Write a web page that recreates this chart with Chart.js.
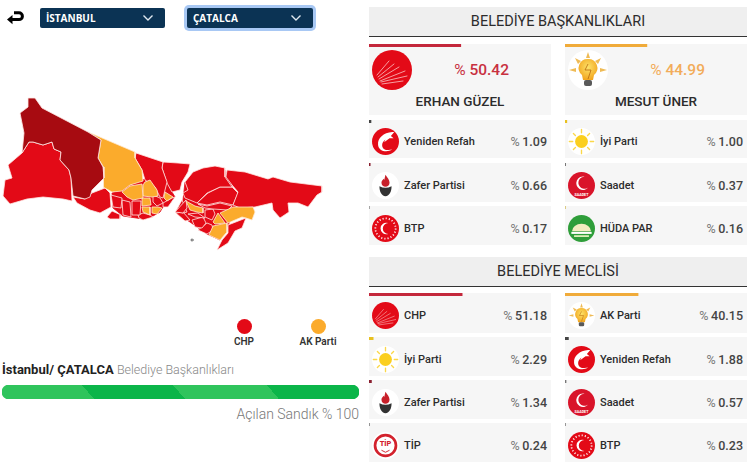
<!DOCTYPE html>
<html lang="tr">
<head>
<meta charset="utf-8">
<title>İstanbul / Çatalca</title>
<script src="https://cdn.jsdelivr.net/npm/chart.js@4"></script>
<style>
  html, body { margin: 0; padding: 0; background: #fff; }
  body { width: 750px; height: 467px; position: relative; overflow: hidden; font-family: Roboto, Lato, sans-serif; color: #2c2c2c; }
  .abs { position: absolute; }
  .select { position: absolute; top: 8px; height: 20px; width: 125px; background: #0b3354; border-radius: 2px; color: #fff; font: 700 10px/20px "Open Sans", sans-serif; padding-left: 6px; box-sizing: border-box; }
  .select.focus { box-shadow: 0 0 0 3px #a8c8f4; width: 126px; }
  .select svg { position: absolute; right: 11px; top: 6px; }
  .head { position: absolute; left: 369px; width: 378px; height: 30px; background: #efefef; border-bottom: 1px solid #333; box-sizing: border-box; text-align: center; font-size: 14.5px; line-height: 29px; font-weight: 400; }
  .card { position: absolute; width: 182px; background: #f6f6f6; }
  .card canvas { position: absolute; left: 0; top: 0; }
  .card .logo { position: absolute; left: 3px; top: 50%; margin-top: -11px; width: 27px; height: 27px; }
  .card .name { position: absolute; left: 35px; top: calc(50% + 2px); transform: translateY(-50%); font-size: 11px; font-weight: 500; white-space: nowrap; }
  .card .val { position: absolute; right: 4px; top: calc(50% + 2px); transform: translateY(-50%); font-size: 12.5px; font-weight: 500; word-spacing: -0.5px; white-space: nowrap; color: #444; }
  .card .val i { font-style: normal; font-weight: 400; color: #777; }
  .big .logo { left: 3px; top: 6px; margin: 0; width: 40px; height: 40px; }
  .big .val { right: 42px; top: 26px; font-size: 15.5px; word-spacing: 0; }
  .big .cand { position: absolute; left: 0; right: 0; top: 49px; text-align: center; font-size: 13.5px; font-weight: 500; }
  .legend { position: absolute; top: 319px; width: 60px; text-align: center; font-size: 10px; font-weight: 600; color: #333; }
  .legend b { display: block; width: 15px; height: 15px; border-radius: 50%; margin: 0 auto 2px; }
</style>
</head>
<body>

<svg width="0" height="0" style="position:absolute">
  <defs>
    <radialGradient id="bulbGlow" cx="50%" cy="40%" r="60%">
      <stop offset="0" stop-color="#fde36a"/>
      <stop offset="1" stop-color="#f2a51e"/>
    </radialGradient>
    <symbol id="logo-chp" viewBox="0 0 40 40">
      <circle cx="20" cy="20" r="20" fill="#e30a17"/>
      <g stroke="#fbc4c4" stroke-width="0.8" stroke-linecap="round">
        <path d="M5 25L17 11M6 27L22 14M7 29L27 17M8 31L33 21M9 32L35 26M10 34L31 31"/>
      </g>
    </symbol>
    <symbol id="logo-ak" viewBox="0 0 40 40">
      <circle cx="20" cy="20" r="20" fill="#fff"/>
      <g fill="#efbb56">
        <path d="M20 2l2 6h-4zM7 8l6 3-3 3zM33 8l-6 3 3 3zM1 20l7-2v4zM39 20l-7-2v4z"/>
      </g>
      <path d="M20 9a9 9 0 0 1 6 16l-1 5H15l-1-5a9 9 0 0 1 6-16z" fill="url(#bulbGlow)"/>
      <path d="M20 14l-3 6h6l-3 9" stroke="#b86a10" stroke-width="0.8" fill="none"/>
      <rect x="16" y="30" width="8" height="6" rx="2" fill="#5a5a5a"/>
    </symbol>
    <symbol id="logo-yrp" viewBox="0 0 40 40">
      <circle cx="20" cy="20" r="20" fill="#e30a17"/>
      <path d="M30 6C17 7 8 15 9 25c1 9 12 12 21 7-8 2-15 0-15-7 0-3 2-6 5-8l-2 4 8-6 6 0-4-3 5-6z" fill="#fff"/>
    </symbol>
    <symbol id="logo-iyi" viewBox="0 0 40 40">
      <circle cx="20" cy="20" r="20" fill="#fff"/>
      <circle cx="20" cy="20" r="9.5" fill="#fbcf1f"/>
      <g stroke="#fbd84a" stroke-width="2" stroke-linecap="round">
        <path d="M20 2v5M20 33v5M2 20h5M33 20h5M8 8l3 3M32 8l-3 3M8 32l3-3M32 32l-3-3"/>
      </g>
    </symbol>
    <symbol id="logo-zafer" viewBox="0 0 40 40">
      <circle cx="20" cy="20" r="20" fill="#fff"/>
      <path d="M20 4c3 5 6 7 6 12 0 4-3 6-6 6s-6-2-6-6c0-3 2-4 3-6 1 1 1 2 1 2 1-3 1-5 2-8z" fill="#c8202a"/>
      <path d="M11 21c6 3 12 3 18 0 0 8-3 14-9 15-6-1-9-7-9-15z" fill="#333"/>
    </symbol>
    <symbol id="logo-saadet" viewBox="0 0 40 40">
      <circle cx="20" cy="20" r="20" fill="#d9142a"/>
      <path d="M25 7a10 10 0 1 0 5 16 9 9 0 1 1-5-16z" fill="#fff"/>
      <text x="20" y="35" font-size="5.5" font-weight="700" fill="#fff" text-anchor="middle">SAADET</text>
    </symbol>
    <symbol id="logo-btp" viewBox="0 0 40 40">
      <circle cx="20" cy="20" r="20" fill="#e30a17"/>
      <circle cx="20" cy="20" r="15" fill="none" stroke="#fff" stroke-width="2.6" stroke-dasharray="1.6 3.1"/>
      <path d="M24 12a8.5 8.5 0 1 0 0 16 7 7 0 1 1 0-16z" fill="#fff"/>
    </symbol>
    <symbol id="logo-huda" viewBox="0 0 40 40">
      <circle cx="20" cy="20" r="20" fill="#2f9e3a"/>
      <path d="M6 24a14 11 0 0 1 28 0z" fill="#f4ecc0"/>
      <rect x="5" y="25" width="30" height="3" fill="#fff"/>
      <rect x="9" y="30" width="22" height="2.5" fill="#e8f4c0"/>
    </symbol>
    <symbol id="logo-tip" viewBox="0 0 40 40">
      <circle cx="20" cy="20" r="20" fill="#fff"/>
      <circle cx="20" cy="20" r="15.5" fill="none" stroke="#d3222d" stroke-width="4"/>
      <text x="20" y="21" font-size="11" font-weight="800" fill="#d3222d" text-anchor="middle">TİP</text>
      <path d="M14 27l6 3 6-3" stroke="#d3222d" stroke-width="1.4" fill="none"/>
    </symbol>
  </defs>
</svg>

<svg class="abs" style="left:6px;top:11px" width="18" height="14" viewBox="0 0 18 14">
  <path d="M8 1.8h5a3.4 3.4 0 0 1 0 6.8H4" fill="none" stroke="#000" stroke-width="3"/>
  <path d="M6.5 4L1 8.6l5.5 4.6z" fill="#000"/>
</svg>

<div class="select" style="left:40px">İSTANBUL<svg width="12" height="8" viewBox="0 0 12 8"><path d="M1.5 1.5L6 6l4.5-4.5" fill="none" stroke="#dfe8ef" stroke-width="1.4"/></svg></div>
<div class="select focus" style="left:187px">ÇATALCA<svg width="12" height="8" viewBox="0 0 12 8"><path d="M1.5 1.5L6 6l4.5-4.5" fill="none" stroke="#dfe8ef" stroke-width="1.4"/></svg></div>

<canvas id="map" class="abs" style="left:0;top:90px" width="330" height="170"></canvas>

<div id="legend"></div>

<div class="abs" style="left:2px;top:362px;font-size:13px;white-space:nowrap"><b style="font-weight:700;color:#222">İstanbul/ ÇATALCA</b> <span style="font-weight:300;color:#888;font-size:12.5px">Belediye Başkanlıkları</span></div>
<canvas id="progress" class="abs" style="left:2px;top:385px" width="357" height="14"></canvas>
<div class="abs" style="right:391px;top:406px;font-size:14px;font-weight:300;color:#777;white-space:nowrap">Açılan Sandık % 100</div>

<div class="head" style="top:7px">BELEDİYE BAŞKANLIKLARI</div>
<div class="head" style="top:257px">BELEDİYE MECLİSİ</div>
<div id="cards"></div>

<script>
// belediye baskanligi
const candidates = ['ERHAN GÜZEL', 'MESUT ÜNER']
const candidateParties = ['CHP', 'AK Parti']
const candidateValues = [50.42, 44.99]
const baskanParties = ['Yeniden Refah', 'İyi Parti', 'Zafer Partisi', 'Saadet', 'BTP', 'HÜDA PAR']
const baskanValues = [1.09, 1.00, 0.66, 0.37, 0.17, 0.16]

// belediye meclisi
const meclisParties = ['CHP', 'AK Parti', 'İyi Parti', 'Yeniden Refah', 'Zafer Partisi', 'Saadet', 'TİP', 'BTP']
const meclisValues = [51.18, 40.15, 2.29, 1.88, 1.34, 0.57, 0.24, 0.23]

const openedBoxes = [100]
const legendParties = ['CHP', 'AK Parti']

// ilce sinirlari, haritadan okundu
const silivri = [[22,153],[29,142],[33,142],[43,145],[52,142],[54,149],[61,152],[60,160],[69,170],[71,178],[72,201],[63,199],[43,197],[27,199],[10,204],[3,196],[5,180],[12,178],[8,165],[22,153]]
const catalca = [[28,98],[35,98],[42,108],[88,132],[101,140],[98,158],[103,167],[104,178],[92,190],[90,197],[85,199],[73,196],[71,178],[69,170],[60,160],[61,152],[54,149],[52,142],[43,145],[33,142],[29,142],[22,153],[24,133],[20,113],[28,107],[28,98]]
const arnavutkoy = [[88,132],[135,152],[135,158],[142,170],[143,181],[130,185],[122,191],[112,192],[103,187],[104,178],[103,167],[98,158],[101,140],[88,132]]
const buyukcekmece = [[73,197],[85,199],[92,193],[105,188],[110,193],[111,207],[100,213],[90,210],[77,203],[73,197]]
const basaksehir = [[122,192],[130,186],[142,184],[143,198],[133,200],[127,197],[122,192]]
const eyup = [[136,153],[163,162],[162,168],[167,182],[163,198],[160,197],[155,187],[145,180],[142,170],[135,158],[136,153]]
const sariyer = [[163,162],[178,163],[190,164],[188,172],[182,182],[180,190],[172,192],[167,183],[162,168],[163,162]]
const gaziosmanpasa = [[145,182],[150,180],[157,190],[158,196],[152,197],[143,196],[143,185],[145,182]]
const esenyurt = [[111,195],[122,198],[121,208],[113,207],[111,195]]
const kucukcekmece = [[122,200],[130,202],[131,217],[123,215],[122,200]]
const bagcilar = [[132,201],[141,201],[140,215],[132,215],[132,201]]
const sultangazi = [[142,198],[150,198],[151,205],[142,206],[142,198]]
const esenler = [[142,207],[150,207],[150,215],[143,212],[142,207]]
const avcilar = [[107,217],[112,211],[121,215],[120,219],[110,219],[107,217]]
const bakirkoy = [[138,215],[143,213],[150,215],[153,217],[143,220],[139,218],[138,215]]
const gungoren = [[152,207],[158,207],[162,208],[157,214],[152,213],[152,207]]
const sisli = [[153,195],[160,198],[163,203],[157,206],[153,202],[153,195]]
const kagithane = [[165,192],[173,197],[167,201],[164,198],[165,192]]
const besiktas = [[163,203],[172,198],[175,197],[168,207],[163,207],[163,203]]
const fatih = [[175,212],[186,200],[187,208],[183,213],[175,212]]
const beykoz = [[185,182],[193,172],[203,168],[215,166],[225,168],[225,177],[232,187],[220,187],[207,193],[197,203],[185,198],[183,193],[188,190],[185,182]]
const sile = [[227,170],[245,172],[268,179],[273,177],[290,182],[322,186],[322,192],[317,195],[308,207],[298,203],[288,203],[289,212],[280,218],[273,210],[272,203],[255,207],[240,208],[233,205],[238,192],[232,185],[226,177],[227,170]]
const cekmekoy = [[208,193],[220,187],[232,187],[238,193],[233,205],[220,202],[207,205],[197,203],[208,193]]
const umraniye = [[198,204],[207,206],[220,203],[232,206],[228,210],[213,209],[205,208],[198,204]]
const uskudar = [[186,201],[195,206],[203,208],[203,213],[197,212],[190,210],[186,201]]
const kadikoyKuzey = [[176,211],[182,200],[187,212],[183,213],[176,211]]
const kadikoy = [[176,213],[183,212],[190,220],[185,221],[176,213]]
const atasehir = [[188,214],[198,213],[205,218],[195,217],[188,214]]
const sancaktepeBati = [[205,210],[213,209],[215,214],[212,220],[205,217],[205,210]]
const maltepe = [[192,220],[203,217],[206,223],[202,228],[195,227],[192,220]]
const kartal = [[198,230],[207,223],[212,225],[213,230],[207,234],[198,230]]
const sultanbeyli = [[213,222],[218,213],[225,223],[215,224],[213,222]]
const sancaktepe = [[220,213],[233,207],[253,207],[255,212],[252,220],[246,218],[242,217],[228,223],[220,213]]
const pendikBati = [[209,235],[213,226],[227,223],[227,232],[220,240],[209,235]]
const tuzla = [[228,225],[246,218],[242,228],[235,231],[228,243],[217,250],[222,240],[228,233],[228,225]]
const adalar = [[191,239],[193,239],[193,241],[191,241],[191,239]]
// ilceler arasi bosluklar icin alt katman
const avrupaYakasi = [[112,193],[143,180],[163,165],[172,192],[175,197],[163,207],[160,212],[153,216],[143,219],[123,216],[113,208],[112,193]]
const anadoluYakasi = [[185,182],[225,170],[232,187],[240,205],[228,225],[220,240],[207,234],[190,222],[176,213],[183,200],[185,182]]

const chpDistricts = [silivri, buyukcekmece, eyup, sariyer, esenyurt, kucukcekmece, bagcilar, avcilar, bakirkoy, sisli, besiktas, fatih, beykoz, sile, cekmekoy, umraniye, kadikoyKuzey, kadikoy, atasehir, sancaktepeBati, maltepe, kartal, tuzla]
const akDistricts = [arnavutkoy, basaksehir, gaziosmanpasa, sultangazi, esenler, gungoren, kagithane, uskudar, sultanbeyli, sancaktepe, pendikBati]
const selectedDistricts = [catalca]
const baseShapes = [avrupaYakasi, anadoluYakasi]

const RED = '#e30a17'
const ORANGE = '#fbab2c'
const DARK_RED = '#a70b11'
const partyStyle = {
  'CHP': { logo: 'chp', bar: '#c4283c', text: '#c8303f' },
  'AK Parti': { logo: 'ak', bar: '#f0ab3a', text: '#f2ac5a' },
  'Yeniden Refah': { logo: 'yrp', bar: '#444' },
  'İyi Parti': { logo: 'iyi', bar: '#e8c020' },
  'Zafer Partisi': { logo: 'zafer', bar: '#8a2030' },
  'Saadet': { logo: 'saadet', bar: '#777' },
  'BTP': { logo: 'btp', bar: '#777' },
  'HÜDA PAR': { logo: 'huda', bar: '#c9b040' },
  'TİP': { logo: 'tip', bar: '#777' },
}

Chart.defaults.animation = false
Chart.defaults.responsive = false

function logoTag(party) {
  return `<svg class="logo"><use href="#logo-${partyStyle[party].logo}"/></svg>`
}

// kartin ustundeki ince yuzde cubugu
function topBar(canvas, value, color) {
  new Chart(canvas, {
    type: 'bar',
    data: { labels: [''], datasets: [{ data: [value], backgroundColor: color, barThickness: 3 }] },
    options: {
      indexAxis: 'y',
      layout: { padding: 0 },
      plugins: { legend: { display: false }, tooltip: { enabled: false } },
      scales: {
        x: { display: false, min: 0, max: 100 },
        y: { display: false },
      },
    },
  })
}

function addCard(party, value, left, top, height, candidate) {
  const card = document.createElement('div')
  card.className = candidate ? 'card big' : 'card'
  card.style.left = left + 'px'
  card.style.top = top + 'px'
  card.style.height = height + 'px'
  const style = partyStyle[party]
  const num = value.toFixed(2)
  const color = candidate ? style.text : ''
  card.innerHTML = `<canvas width="182" height="3"></canvas>${logoTag(party)}` +
    (candidate ? `<div class="cand">${candidate}</div>` : `<div class="name">${party}</div>`) +
    `<div class="val" style="color:${color}"><i style="color:${color}">%</i> ${num}</div>`
  document.getElementById('cards').appendChild(card)
  topBar(card.querySelector('canvas'), value, style.bar)
}

const COLS = [369, 565]
const baskanRows = [[120, 38], [163, 39], [206, 39]]
const meclisRows = [[293, 40], [337, 39], [380, 39], [423, 39]]

candidates.forEach((name, i) => addCard(candidateParties[i], candidateValues[i], COLS[i], 44, 71, name))
baskanParties.forEach((p, i) => {
  const row = baskanRows[Math.floor(i / 2)]
  addCard(p, baskanValues[i], COLS[i % 2], row[0], row[1])
})
meclisParties.forEach((p, i) => {
  const row = meclisRows[Math.floor(i / 2)]
  addCard(p, meclisValues[i], COLS[i % 2], row[0], row[1])
})

// harita
function districtDataset(shape, color, border) {
  return {
    data: shape.map(p => ({ x: p[0], y: p[1] })),
    backgroundColor: color,
    borderColor: border,
    borderWidth: 0.8,
    pointRadius: 0,
    tension: 0,
    fill: 'shape',
    clip: false,
  }
}

new Chart(document.getElementById('map'), {
  type: 'line',
  data: {
    datasets: [
      districtDataset(adalar, '#666', '#999'),
      ...selectedDistricts.map(s => districtDataset(s, DARK_RED, '#ffe9e4')),
      ...akDistricts.map(s => districtDataset(s, ORANGE, '#ffe9d0')),
      ...chpDistricts.map(s => districtDataset(s, RED, '#ffe9e4')),
      ...baseShapes.map(s => districtDataset(s, RED, RED)),
    ],
  },
  options: {
    layout: { padding: 0 },
    plugins: { legend: { display: false }, tooltip: { enabled: false } },
    scales: {
      x: { type: 'linear', display: false, min: 0, max: 330 },
      y: { type: 'linear', display: false, min: 90, max: 260, reverse: true },
    },
  },
})

// lejant
const legendColors = [RED, ORANGE]
const legendLefts = [214, 288]
legendParties.forEach((p, i) => {
  const el = document.createElement('div')
  el.className = 'legend'
  el.style.left = legendLefts[i] + 'px'
  el.innerHTML = `<b style="background:${legendColors[i]}"></b>${p}`
  document.getElementById('legend').appendChild(el)
})

// acilan sandik cubugu, capraz seritli
function stripes(context) {
  const { chart } = context
  const w = chart.width
  const slope = 12 / 14
  const x1 = w / (1 + slope * slope)
  const g = chart.ctx.createLinearGradient(0, 0, x1, -x1 * slope)
  const stops = [[0, '#2fc45c'], [0.224, '#2fc45c'], [0.224, '#0bb549'], [0.479, '#0bb549'], [0.479, '#2fc45c'], [0.742, '#2fc45c'], [0.742, '#0bb549'], [1, '#0bb549']]
  stops.forEach(s => g.addColorStop(s[0], s[1]))
  return g
}

new Chart(document.getElementById('progress'), {
  type: 'bar',
  data: { labels: [''], datasets: [{ data: openedBoxes, backgroundColor: stripes, borderRadius: 7, borderSkipped: false, barThickness: 14 }] },
  options: {
    indexAxis: 'y',
    layout: { padding: 0 },
    plugins: { legend: { display: false }, tooltip: { enabled: false } },
    scales: {
      x: { display: false, min: 0, max: 100 },
      y: { display: false },
    },
  },
})
</script>
</body>
</html>
